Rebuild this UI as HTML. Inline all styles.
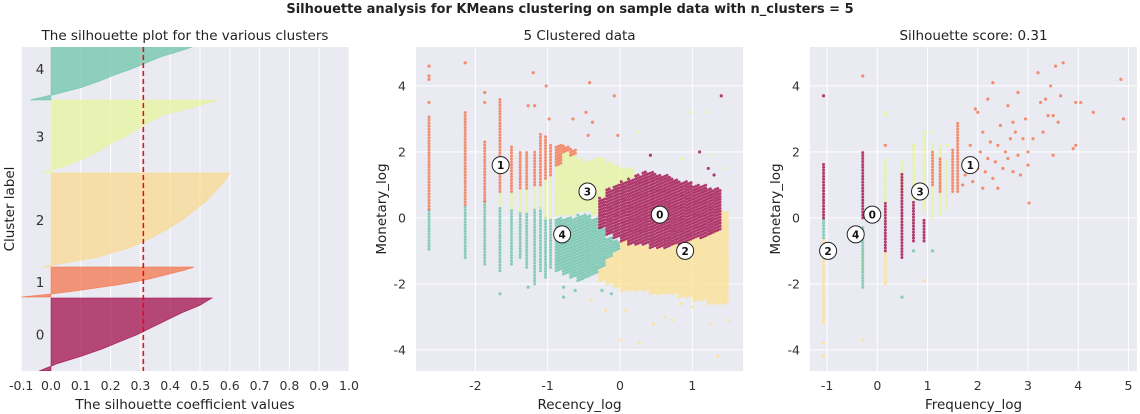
<!DOCTYPE html>
<html><head><meta charset="utf-8">
<style>
html,body{margin:0;padding:0;background:#fff;}
svg{display:block;font-family:"DejaVu Sans","Liberation Sans",sans-serif;}
</style></head>
<body>
<svg id="chart" width="1140" height="414" viewBox="0 0 1140 414" xmlns="http://www.w3.org/2000/svg">
<text x="570" y="13" text-anchor="middle" font-size="13" font-weight="bold" fill="#222">Silhouette analysis for KMeans clustering on sample data with n_clusters = 5</text>
<g id="p1"></g>
<g id="p2"></g>
<g id="p3"></g>
</svg>
<script>
// ---------- data ----------
const clusterIds = [0,1,2,3,4];
const clusterColors = ["#9e0142","#f46d43","#fee08b","#e6f598","#66c2a5"];
const silColors = ["#9e0142","#f46d43","#f9d98a","#e6f598","#66c2a5"];
const silStart = [0,740,1040,1980,2710];
const silSize = [730,300,940,730,620];
const silProfile = [
 [-0.04,0.02,0.1,0.17,0.23,0.29,0.34,0.39,0.44,0.5,0.54],
 [-0.1,0.0,0.08,0.15,0.22,0.28,0.33,0.37,0.41,0.45,0.48],
 [-0.03,0.15,0.26,0.33,0.39,0.44,0.48,0.52,0.55,0.58,0.6],
 [-0.03,0.05,0.11,0.16,0.2,0.25,0.29,0.33,0.38,0.48,0.56],
 [-0.07,0.02,0.1,0.16,0.21,0.27,0.32,0.37,0.44,0.5,0.56]
];
const silScore = 0.31;
const silTicks = [-0.1,0,0.1,0.2,0.3,0.4,0.5,0.6,0.7,0.8,0.9,1.0];
const silTickLabels = ["-0.1","0.0","0.1","0.2","0.3","0.4","0.5","0.6","0.7","0.8","0.9","1.0"];

// panel 2: strips [x, yLow, yHigh, cluster]
const recStrips = [
 [-2.64,0.27,3.1,1],[-2.64,-0.95,0.27,4],
 [-2.14,0.4,3.2,1],[-2.14,-1.2,0.4,4],
 [-1.87,0.5,2.3,1],[-1.87,-1.4,0.5,4],
 [-1.66,0.8,3.6,1],[-1.66,0.4,0.8,3],[-1.66,-1.6,0.3,4],
 [-1.50,0.8,2.2,1],[-1.50,0.3,0.8,3],[-1.50,-1.4,0.3,4],
 [-1.38,0.9,2.0,1],[-1.38,0.2,0.9,3],[-1.38,-1.2,0.2,4],
 [-1.29,0.9,2.0,1],[-1.29,0.2,0.9,3],[-1.29,-1.5,0.2,4],
 [-1.18,1.0,2.0,1],[-1.18,0.3,1.0,3],[-1.18,-2.0,0.3,4],
 [-1.10,1.0,2.6,1],[-1.10,0.3,1.0,3],[-1.10,-1.6,0.3,4],
 [-1.03,1.2,2.5,1],[-1.03,0.0,1.2,3],[-1.03,-1.8,0.0,4],
 [-0.96,1.3,2.2,1],[-0.96,0.0,1.3,3],[-0.96,-1.5,0.0,4]
];
// blob columns [x, yLow, yHigh, cluster]
const recBlobs = [
 [-0.85,-1.6,0.0,4],[-0.75,-1.7,0.0,4],[-0.65,-1.8,0.0,4],[-0.55,-1.9,0.1,4],[-0.45,-1.8,0.1,4],[-0.35,-1.7,0.0,4],[-0.25,-1.5,-0.3,4],[-0.15,-1.2,-0.6,4],[-0.05,-1.0,-0.7,4],
 [-0.25,-1.9,-1.5,2],[-0.15,-2.0,-1.2,2],[-0.05,-2.1,-1.0,2],[0.05,-2.2,-0.7,2],[0.15,-2.2,-0.8,2],[0.25,-2.2,-0.8,2],[0.35,-2.2,-0.8,2],[0.45,-2.3,-0.9,2],[0.55,-2.3,-0.9,2],[0.65,-2.3,-0.9,2],[0.75,-2.3,-0.8,2],[0.85,-2.4,-0.8,2],[0.95,-2.4,-0.7,2],[1.05,-2.5,-0.6,2],[1.15,-2.5,-0.6,2],[1.25,-2.6,-0.5,2],[1.35,-2.6,-0.4,2],[1.45,-2.6,0.2,2],
 [-0.85,0.1,1.6,3],[-0.75,0.1,2.0,3],[-0.65,0.1,1.9,3],[-0.55,0.2,1.8,3],[-0.45,0.2,1.7,3],[-0.35,0.1,1.8,3],[-0.25,0.6,1.8,3],[-0.15,0.9,1.7,3],[-0.05,1.0,1.6,3],[0.05,1.1,1.5,3],[0.15,1.2,1.5,3],
 [-0.85,1.6,2.2,1],[-0.75,2.0,2.2,1],[-0.65,1.9,2.1,1],
 [-0.25,-0.3,0.6,0],[-0.15,-0.5,0.9,0],[-0.05,-0.6,1.0,0],[0.05,-0.7,1.1,0],[0.15,-0.8,1.2,0],[0.25,-0.8,1.3,0],[0.35,-0.8,1.4,0],[0.45,-0.9,1.4,0],[0.55,-0.9,1.3,0],[0.65,-0.9,1.3,0],[0.75,-0.8,1.2,0],[0.85,-0.8,1.1,0],[0.95,-0.7,1.1,0],[1.05,-0.6,1.0,0],[1.15,-0.6,1.0,0],[1.25,-0.5,0.9,0],[1.35,-0.4,0.9,0]
];
const recPoints = [
 [-2.64,4.6,1],[-2.64,4.3,1],[-2.64,4.2,1],[-2.64,3.5,1],[-2.14,4.7,1],[-1.87,3.8,1],[-1.87,3.5,1],[-1.66,-2.3,4],
 [-1.2,4.4,1],[-1.02,4.0,1],[-0.42,4.1,1],[-0.08,3.7,1],[-1.27,3.4,1],[-1.18,3.4,1],[-0.98,3.0,1],[-0.65,3.0,1],[-0.47,3.2,1],[-0.38,2.9,1],[-0.44,2.5,1],[-0.03,2.5,1],
 [-0.78,-2.1,4],[-0.62,-2.2,4],[-0.78,-2.4,4],[-0.25,-2.2,4],[-0.12,-2.3,4],[-1.27,-2.1,4],
 [0.25,2.6,3],[0.98,3.2,3],[1.2,3.2,3],[0.85,1.8,3],[1.28,1.9,3],[1.45,1.5,3],
 [0.42,1.9,0],[1.1,2.0,0],[1.22,1.5,0],[1.4,3.7,0],[1.3,1.3,0],
 [0.0,-3.7,2],[0.27,-3.8,2],[0.46,-3.2,2],[0.62,-3.0,2],[0.72,-3.1,2],[1.25,-3.2,2],[1.35,-4.2,2],[1.5,-3.1,2],[0.08,-2.8,2],[-0.2,-2.8,2],[-0.4,-2.5,2],[0.85,-2.6,2],[1.0,-2.7,2]
];
const recCenters = [[0.55,0.1],[-1.65,1.6],[0.9,-1.0],[-0.45,0.8],[-0.8,-0.5]];

const freqStrips = [
 [-1.07,-3.2,-0.6,2],[-1.07,-0.6,0.0,4],[-1.07,0.0,1.7,0],
 [-0.29,-2.1,-0.3,4],[-0.29,-1.6,-0.9,2],[-0.29,0.0,2.0,0],
 [0.16,-2.0,-1.0,2],[0.16,-1.0,0.5,0],[0.16,0.5,1.8,3],
 [0.49,-1.2,1.4,0],[0.49,0.8,1.7,3],
 [0.72,-0.7,0.5,0],[0.72,0.6,2.2,3],
 [0.93,-0.7,0.0,0],[0.93,0.2,2.7,3],
 [1.10,0.0,2.3,3],[1.10,1.0,2.0,1],
 [1.25,0.1,2.2,3],[1.25,0.8,1.8,1],
 [1.38,0.3,1.8,3],[1.50,0.8,2.1,1],[1.60,0.8,2.9,1]
];
const freqPoints = [
 [-1.07,3.7,0],[-1.07,-3.8,2],[-1.07,-4.2,2],[-0.29,4.3,1],[-0.29,-3.7,2],[0.16,3.2,3],[0.16,3.1,3],[0.16,2.2,1],[0.49,-2.4,4],[0.72,-1.0,4],[0.93,-1.9,2],[1.10,-1.0,4],
 [1.7,1.0,1],[1.75,1.3,1],[1.8,1.8,1],[1.85,2.2,1],[1.9,1.1,1],[1.95,3.3,1],[2.0,1.5,1],[2.0,3.2,1],[2.05,2.0,1],[2.1,0.9,1],[2.1,2.6,1],[2.15,1.4,1],[2.2,1.8,1],[2.2,3.6,1],
 [2.25,2.3,1],[2.3,1.2,1],[2.3,4.1,1],[2.35,1.7,1],[2.4,2.2,1],[2.4,0.9,1],[2.45,2.8,1],[2.5,1.5,1],[2.55,2.0,1],[2.6,3.4,1],[2.6,1.8,1],[2.65,2.4,1],[2.7,2.9,1],[2.7,1.4,1],
 [2.75,2.6,1],[2.8,3.8,1],[2.8,1.9,1],[2.85,1.3,1],[2.9,2.4,1],[2.95,3.0,1],[3.0,2.0,1],[3.0,1.6,1],[3.02,0.45,1],[3.1,2.4,1],[3.2,4.4,1],[3.25,3.5,1],[3.3,2.6,1],[3.35,3.6,1],[3.4,3.1,1],
 [3.45,4.0,1],[3.5,1.9,1],[3.5,3.1,1],[3.55,4.6,1],[3.6,2.9,1],[3.65,3.7,1],[3.7,4.7,1],[3.9,2.1,1],[3.95,2.2,1],[3.95,3.5,1],[4.05,3.5,1],[4.3,3.2,1],[4.85,4.2,1],[4.9,3.0,1],
 [1.4,2.2,3],[1.1,2.6,3],[0.72,2.2,3]
];
const freqCenters = [[-0.1,0.1],[1.85,1.6],[-0.98,-1.0],[0.85,0.8],[-0.43,-0.5]];

const recTicks = [-2,-1,0,1];
const freqTicks = [-1,0,1,2,3,4,5];
const monTicks = [-4,-2,0,2,4];

// ---------- helpers ----------
const NS = "http://www.w3.org/2000/svg";
function mk(parent, tag, attrs, text){
  const e = document.createElementNS(NS, tag);
  for (const k in attrs) e.setAttribute(k, attrs[k]);
  if (text !== undefined) e.textContent = text;
  parent.appendChild(e);
  return e;
}
const TICK = "#333";

// ---------- panel 1 ----------
(function(){
  const g = document.getElementById('p1');
  const L=21.2, R=349, T=47, B=371;
  const sx = v => 51 + v*298;
  const sy = s => B - s*0.1;
  const clipId = "clip1";
  const defs = mk(g,'defs',{});
  const cp = mk(defs,'clipPath',{id:clipId});
  mk(cp,'rect',{x:L,y:T,width:R-L,height:B-T});
  const bg = mk(g,'rect',{x:L,y:T,width:R-L,height:B-T,fill:"#eaeaf2"});
  
  
  silTicks.forEach((t,i)=>{
    const gl = mk(g,'line',{x1:sx(t),x2:sx(t),y1:T,y2:B,stroke:"#fff","stroke-width":1});
    
    
    const tl = mk(g,'text',{x:sx(t),y:390,"text-anchor":"middle","font-size":12.5,fill:TICK},silTickLabels[i]);
    
    
  });
  const cg = mk(g,'g',{"clip-path":"url(#"+clipId+")"});
  clusterIds.forEach(c=>{
    const prof = silProfile[c], n = prof.length-1;
    let d = "M"+sx(0)+","+sy(silStart[c]);
    prof.forEach((v,i)=>{ d += " L"+sx(v)+","+sy(silStart[c]+silSize[c]*i/n); });
    d += " L"+sx(0)+","+sy(silStart[c]+silSize[c])+" Z";
    const p = mk(cg,'path',{d:d,fill:silColors[c],"fill-opacity":0.7,stroke:silColors[c],"stroke-opacity":0.7,"stroke-width":0.8});
    
    
    const lab = mk(g,'text',{x:40,y:sy(silStart[c]+silSize[c]*0.5)+5,"text-anchor":"middle","font-size":13.5,fill:TICK},String(c));
    
    
  });
  const rl = mk(g,'line',{x1:sx(silScore),x2:sx(silScore),y1:T,y2:B,stroke:"#ff0000","stroke-width":1.5,"stroke-dasharray":"5,3"});
  
  
  const t1 = mk(g,'text',{x:185,y:40,"text-anchor":"middle","font-size":13.5,fill:"#222"},"The silhouette plot for the various clusters");
  
  
  const xl = mk(g,'text',{x:185,y:409,"text-anchor":"middle","font-size":13.5,fill:"#222"},"The silhouette coefficient values");
  
  
  const yl = mk(g,'text',{x:14,y:209,"text-anchor":"middle","font-size":13.5,fill:"#222",transform:"rotate(-90 14 209)"},"Cluster label");
  
  
})();

// ---------- scatter panels ----------
function scatterPanel(gid, L, R, xmin, xmax, xticks, strips, blobs, points, centers, title, xlabel, ylx){
  const g = document.getElementById(gid);
  const T=47, B=371, ymax=5.18, ymin=-4.64;
  const sx = v => L + (v-xmin)/(xmax-xmin)*(R-L);
  const sy = v => T + (ymax-v)/(ymax-ymin)*(B-T);
  const bg = mk(g,'rect',{x:L,y:T,width:R-L,height:B-T,fill:"#eaeaf2"});
  
  
  xticks.forEach(t=>{
    const gl = mk(g,'line',{x1:sx(t),x2:sx(t),y1:T,y2:B,stroke:"#fff","stroke-width":1});
    
    
    const tl = mk(g,'text',{x:sx(t),y:390,"text-anchor":"middle","font-size":12.5,fill:TICK},String(t));
    
    
  });
  monTicks.forEach(t=>{
    const gl = mk(g,'line',{x1:L,x2:R,y1:sy(t),y2:sy(t),stroke:"#fff","stroke-width":1});
    
    
    const tl = mk(g,'text',{x:L-10,y:sy(t)+4.5,"text-anchor":"end","font-size":12.5,fill:TICK},String(t));
    
    
  });
  const dots = mk(g,'g',{"fill-opacity":0.75});
  
  
  const order = [2,4,3,1,0];
  order.forEach(c=>{
    strips.filter(s=>s[3]===c).forEach(s=>{
      for(let y=s[1]; y<=s[2]+1e-9; y+=0.09){
        const d = mk(dots,'circle',{cx:sx(s[0]),cy:sy(y),r:1.5,fill:clusterColors[c]});
        
        
      }
    });
    blobs.filter(s=>s[3]===c).forEach(s=>{
      [-0.033,0,0.033].forEach((off,k)=>{
        for(let y=s[1]+k*0.03; y<=s[2]+1e-9; y+=0.09){
          const d = mk(dots,'circle',{cx:sx(s[0]+off),cy:sy(y),r:1.5,fill:clusterColors[c]});
          
          
        }
      });
    });
    points.filter(p=>p[2]===c).forEach(p=>{
      const d = mk(dots,'circle',{cx:sx(p[0]),cy:sy(p[1]),r:1.6,fill:clusterColors[c]});
      
      
    });
  });
  centers.forEach((c,i)=>{
    const m = mk(g,'circle',{cx:sx(c[0]),cy:sy(c[1]),r:8.5,fill:"#fff",stroke:"#222","stroke-width":1});
    
    
    const t = mk(g,'text',{x:sx(c[0]),y:sy(c[1])+4,"text-anchor":"middle","font-size":10.5,"font-weight":"bold",fill:"#111"},String(i));
    
    
  });
  const tt = mk(g,'text',{x:(L+R)/2,y:40,"text-anchor":"middle","font-size":13.5,fill:"#222"},title);
  
  
  const xl = mk(g,'text',{x:(L+R)/2,y:409,"text-anchor":"middle","font-size":13.5,fill:"#222"},xlabel);
  
  
  const yl = mk(g,'text',{x:ylx,y:209,"text-anchor":"middle","font-size":13.5,fill:"#222",transform:"rotate(-90 "+ylx+" 209)"},"Monetary_log");
  
  
}
scatterPanel('p2',416,743,-2.82,1.70,recTicks,recStrips,recBlobs,recPoints,recCenters,"5 Clustered data","Recency_log",386);
scatterPanel('p3',810,1137,-1.34,5.17,freqTicks,freqStrips,[],freqPoints,freqCenters,"Silhouette score: 0.31","Frequency_log",780);
</script>
</body></html>
